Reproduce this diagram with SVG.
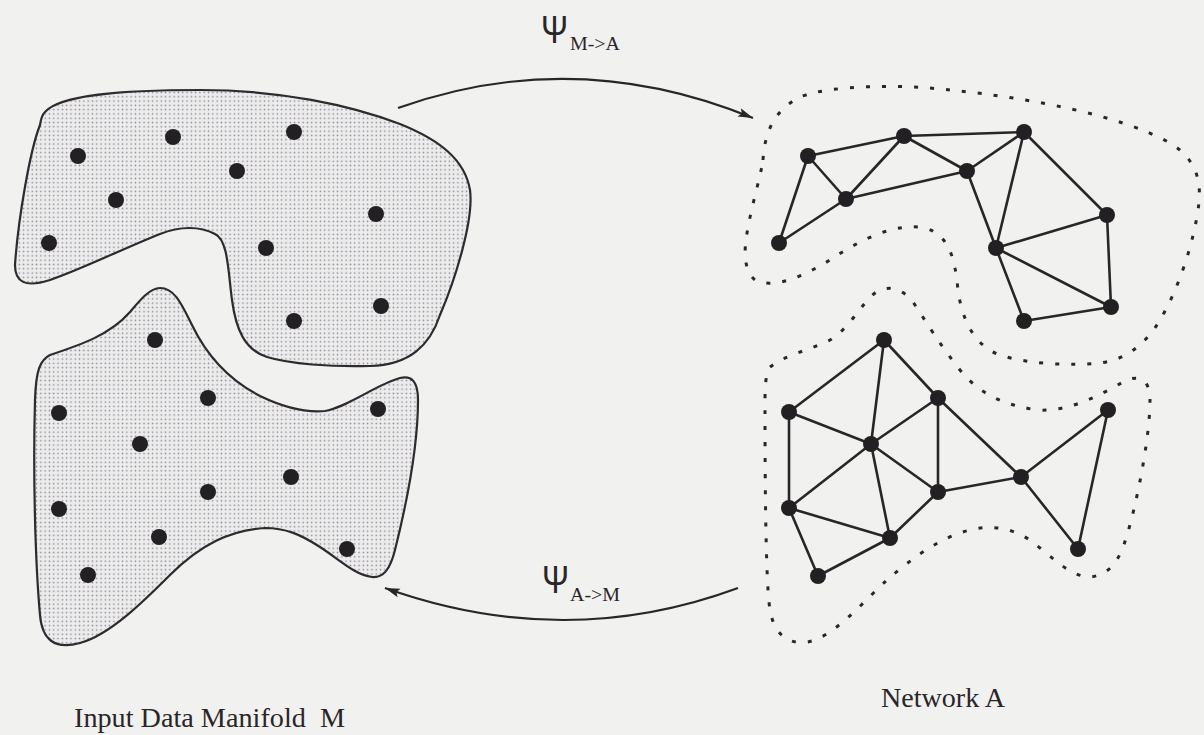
<svg xmlns="http://www.w3.org/2000/svg" width="1204" height="735" viewBox="0 0 1204 735">
<style>
.blob{fill:url(#dots);stroke:#2e2a2e;stroke-width:2.2}
.pt{fill:#232023}
.edge{stroke:#2a2628;stroke-width:2.6;fill:none;stroke-linecap:round}
.region{fill:none;stroke:#2e2430;stroke-width:3;stroke-dasharray:4 12}
.arrow{fill:none;stroke:#2a2628;stroke-width:2.2}
.lbl{font-family:"Liberation Serif","Times New Roman",serif;fill:#2a2628}
.psi{font-family:"Liberation Sans",Arial,sans-serif;fill:#2a2628}
</style>
<defs>
<pattern id="dots" width="4.3" height="4.3" patternUnits="userSpaceOnUse">
<rect width="4.3" height="4.3" fill="#ececec"/>
<circle cx="2.15" cy="2.15" r="0.8" fill="#8e8594"/>
</pattern>
<marker id="ah" markerWidth="16" markerHeight="10" refX="15" refY="4.5" orient="auto" markerUnits="userSpaceOnUse">
<path d="M0,0 L15,4.5 L0,9 L3,4.5 z" fill="#2a2628"/>
</marker>
</defs>
<rect width="1204" height="735" fill="#f1f1f0"/>

<g id="manifold-top">
<path class="blob" d="M 45,112 C 60,95 120,90 200,90 C 280,90 350,105 400,124 C 440,140 465,160 470,190 C 474,220 455,280 440,315 C 430,345 410,365 370,366 C 330,367 290,364 267,357 C 245,350 236,330 232,300 C 228,270 228,240 215,234 C 200,226 180,226 160,234 C 120,250 80,270 50,280 C 25,288 15,282 15,265 C 18,220 30,150 40,125 C 41,118 43,114 45,112 Z"/>
<circle class="pt" cx="78" cy="156" r="8"/>
<circle class="pt" cx="173" cy="137" r="8"/>
<circle class="pt" cx="294" cy="132" r="8"/>
<circle class="pt" cx="237" cy="171" r="8"/>
<circle class="pt" cx="116" cy="200" r="8"/>
<circle class="pt" cx="376" cy="214" r="8"/>
<circle class="pt" cx="49" cy="243" r="8"/>
<circle class="pt" cx="266" cy="248" r="8"/>
<circle class="pt" cx="381" cy="306" r="8"/>
<circle class="pt" cx="294" cy="321" r="8"/>
</g>

<g id="manifold-bottom">
<path class="blob" d="M 160,288 C 175,288 182,305 192,325 C 205,352 225,378 260,396 C 285,408 305,413 325,411 C 350,406 375,385 400,378 C 412,375 418,382 418,400 C 418,450 405,510 395,550 C 390,570 383,578 372,577 C 355,575 340,560 320,547 C 300,534 285,528 265,528 C 230,530 200,545 170,575 C 145,600 110,635 80,643 C 55,650 42,640 40,615 C 35,560 33,470 35,400 C 36,370 40,360 50,355 C 80,345 110,335 130,312 C 140,300 150,288 160,288 Z"/>
<circle class="pt" cx="155" cy="340" r="8"/>
<circle class="pt" cx="208" cy="398" r="8"/>
<circle class="pt" cx="59" cy="413" r="8"/>
<circle class="pt" cx="378" cy="409" r="8"/>
<circle class="pt" cx="140" cy="444" r="8"/>
<circle class="pt" cx="291" cy="477" r="8"/>
<circle class="pt" cx="208" cy="492" r="8"/>
<circle class="pt" cx="59" cy="509" r="8"/>
<circle class="pt" cx="159" cy="537" r="8"/>
<circle class="pt" cx="347" cy="549" r="8"/>
<circle class="pt" cx="88" cy="575" r="8"/>
</g>

<g id="region-top">
<path class="region" d="M 763,160 C 765,130 775,110 800,97 C 830,85 900,84 950,90 C 1030,98 1120,115 1170,143 C 1195,158 1203,180 1198,210 C 1193,245 1178,290 1160,320 C 1145,345 1125,360 1100,363 C 1070,366 1030,364 1003,356 C 975,348 962,320 958,290 C 955,260 950,235 925,228 C 895,222 860,240 830,260 C 805,275 775,290 755,280 C 745,272 744,255 746,240 C 750,210 760,180 763,160 Z"/>
</g>
<g id="region-bottom">
<path class="region" d="M 770,367 C 785,355 810,350 830,340 C 850,328 860,305 875,293 C 890,283 905,290 915,305 C 925,320 940,345 960,370 C 980,395 1005,405 1037,410 C 1070,412 1100,395 1125,381 C 1140,374 1150,380 1150,400 C 1150,440 1135,510 1127,535 C 1120,560 1110,575 1090,577 C 1070,577 1050,555 1030,540 C 1010,527 990,525 970,530 C 940,537 910,560 887,580 C 865,600 840,630 815,640 C 795,647 775,640 770,610 C 765,580 765,450 765,400 C 765,385 766,372 770,367 Z"/>
</g>

<g id="connectors">
<path class="arrow" d="M 398,108 Q 575,45 753,118" marker-end="url(#ah)"/>
<path class="arrow" d="M 738,588 Q 565,652 385,588" marker-end="url(#ah)"/>
<g id="edges-top">
<line class="edge" x1="808" y1="156" x2="904" y2="136"/>
<line class="edge" x1="808" y1="156" x2="846" y2="199"/>
<line class="edge" x1="808" y1="156" x2="779" y2="243"/>
<line class="edge" x1="846" y1="199" x2="779" y2="243"/>
<line class="edge" x1="846" y1="199" x2="904" y2="136"/>
<line class="edge" x1="846" y1="199" x2="967" y2="171"/>
<line class="edge" x1="904" y1="136" x2="1024" y2="132"/>
<line class="edge" x1="904" y1="136" x2="967" y2="171"/>
<line class="edge" x1="967" y1="171" x2="1024" y2="132"/>
<line class="edge" x1="967" y1="171" x2="996" y2="248"/>
<line class="edge" x1="1024" y1="132" x2="996" y2="248"/>
<line class="edge" x1="1024" y1="132" x2="1107" y2="215"/>
<line class="edge" x1="1107" y1="215" x2="996" y2="248"/>
<line class="edge" x1="1107" y1="215" x2="1111" y2="307"/>
<line class="edge" x1="996" y1="248" x2="1111" y2="307"/>
<line class="edge" x1="996" y1="248" x2="1024" y2="321"/>
<line class="edge" x1="1024" y1="321" x2="1111" y2="307"/>
</g>
<g id="edges-bottom">
<line class="edge" x1="884" y1="340" x2="789" y2="412"/>
<line class="edge" x1="884" y1="340" x2="871" y2="444"/>
<line class="edge" x1="884" y1="340" x2="938" y2="398"/>
<line class="edge" x1="789" y1="412" x2="871" y2="444"/>
<line class="edge" x1="789" y1="412" x2="789" y2="508"/>
<line class="edge" x1="871" y1="444" x2="938" y2="398"/>
<line class="edge" x1="871" y1="444" x2="789" y2="508"/>
<line class="edge" x1="871" y1="444" x2="938" y2="492"/>
<line class="edge" x1="871" y1="444" x2="890" y2="538"/>
<line class="edge" x1="938" y1="398" x2="938" y2="492"/>
<line class="edge" x1="938" y1="398" x2="1021" y2="477"/>
<line class="edge" x1="938" y1="492" x2="1021" y2="477"/>
<line class="edge" x1="1021" y1="477" x2="1108" y2="410"/>
<line class="edge" x1="1021" y1="477" x2="1078" y2="549"/>
<line class="edge" x1="1108" y1="410" x2="1078" y2="549"/>
<line class="edge" x1="789" y1="508" x2="890" y2="538"/>
<line class="edge" x1="789" y1="508" x2="818" y2="576"/>
<line class="edge" x1="818" y1="576" x2="890" y2="538"/>
<line class="edge" x1="890" y1="538" x2="938" y2="492"/>
</g>
</g>

<g id="network-top-nodes">
<circle class="pt" cx="808" cy="156" r="8"/>
<circle class="pt" cx="904" cy="136" r="8"/>
<circle class="pt" cx="1024" cy="132" r="8"/>
<circle class="pt" cx="967" cy="171" r="8"/>
<circle class="pt" cx="846" cy="199" r="8"/>
<circle class="pt" cx="779" cy="243" r="8"/>
<circle class="pt" cx="1107" cy="215" r="8"/>
<circle class="pt" cx="996" cy="248" r="8"/>
<circle class="pt" cx="1111" cy="307" r="8"/>
<circle class="pt" cx="1024" cy="321" r="8"/>
</g>
<g id="network-bottom-nodes">
<circle class="pt" cx="884" cy="340" r="8"/>
<circle class="pt" cx="789" cy="412" r="8"/>
<circle class="pt" cx="938" cy="398" r="8"/>
<circle class="pt" cx="871" cy="444" r="8"/>
<circle class="pt" cx="1108" cy="410" r="8"/>
<circle class="pt" cx="1021" cy="477" r="8"/>
<circle class="pt" cx="938" cy="492" r="8"/>
<circle class="pt" cx="789" cy="508" r="8"/>
<circle class="pt" cx="890" cy="538" r="8"/>
<circle class="pt" cx="1078" cy="549" r="8"/>
<circle class="pt" cx="818" cy="576" r="8"/>
</g>

<g id="label-psi-ma">
<text class="psi" x="541" y="43" font-size="38" textLength="27" lengthAdjust="spacingAndGlyphs">Ψ</text>
<text class="lbl" x="570" y="50" font-size="18" textLength="50" lengthAdjust="spacingAndGlyphs">M-&gt;A</text>
</g>
<g id="label-psi-am">
<text class="psi" x="542" y="593" font-size="38" textLength="27" lengthAdjust="spacingAndGlyphs">Ψ</text>
<text class="lbl" x="570" y="601" font-size="18" textLength="50" lengthAdjust="spacingAndGlyphs">A-&gt;M</text>
</g>
<g id="label-manifold">
<text class="lbl" x="74" y="727" font-size="28" textLength="271" lengthAdjust="spacingAndGlyphs" xml:space="preserve">Input Data Manifold  M</text>
</g>
<g id="label-network">
<text class="lbl" x="881" y="707" font-size="28" textLength="124" lengthAdjust="spacingAndGlyphs">Network A</text>
</g>
</svg>
